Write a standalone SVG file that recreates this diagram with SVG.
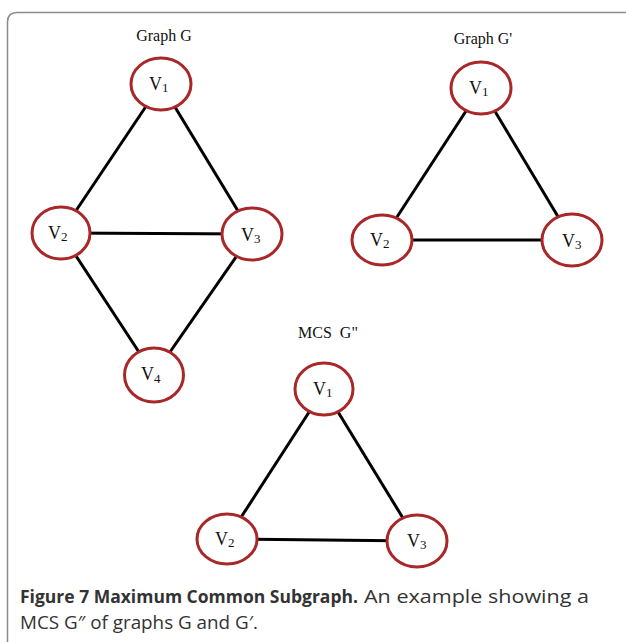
<svg xmlns="http://www.w3.org/2000/svg" width="626" height="642" viewBox="0 0 626 642">
<style>
.n ellipse{fill:#fff;stroke:#a8282a;stroke-width:3}
.e line{stroke:#000;stroke-width:3}
.lbl{font-family:"Liberation Serif",serif;font-size:18px;fill:#111}
.sub{font-size:13px}
.ttl{font-family:"Liberation Serif",serif;font-size:16px;fill:#111;text-anchor:middle}
.cap{font-family:"Open Sans","DejaVu Sans",sans-serif;font-size:18px;fill:#333}
</style>
<rect width="626" height="642" fill="#fff"/>
<path d="M7.5 660 V22 Q7.5 12.5 17 12.5 H640" fill="none" stroke="#8a8a8a" stroke-width="1.5"/>
<text class="ttl" x="164" y="41">Graph G</text>
<text class="ttl" x="483" y="44">Graph G'</text>
<text class="ttl" x="328" y="338" xml:space="preserve">MCS  G"</text>
<g id="connectors" class="e">
<line x1="161" y1="84" x2="61" y2="233"/>
<line x1="161" y1="84" x2="252" y2="234"/>
<line x1="61" y1="233" x2="252" y2="234"/>
<line x1="61" y1="233" x2="154" y2="375"/>
<line x1="252" y1="234" x2="154" y2="375"/>
<line x1="481" y1="88" x2="382" y2="240"/>
<line x1="481" y1="88" x2="572" y2="240"/>
<line x1="382" y1="240" x2="572" y2="240"/>
<line x1="324" y1="389" x2="227" y2="539"/>
<line x1="324" y1="389" x2="417" y2="541"/>
<line x1="227" y1="539" x2="417" y2="541"/>
</g>
<g id="G_v1" class="n"><ellipse cx="161" cy="84" rx="30" ry="26"/><text class="lbl" x="149" y="90">V<tspan class="sub" dy="2">1</tspan></text></g>
<g id="G_v2" class="n"><ellipse cx="61" cy="233" rx="29" ry="26"/><text class="lbl" x="48" y="239">V<tspan class="sub" dy="2">2</tspan></text></g>
<g id="G_v3" class="n"><ellipse cx="252" cy="234" rx="30" ry="26"/><text class="lbl" x="241" y="241">V<tspan class="sub" dy="2">3</tspan></text></g>
<g id="G_v4" class="n"><ellipse cx="154" cy="375" rx="29.5" ry="27"/><text class="lbl" x="141" y="380">V<tspan class="sub" dy="3">4</tspan></text></g>
<g id="Gp_v1" class="n"><ellipse cx="481" cy="88" rx="30" ry="26"/><text class="lbl" x="469" y="94">V<tspan class="sub" dy="2">1</tspan></text></g>
<g id="Gp_v2" class="n"><ellipse cx="382" cy="240" rx="30" ry="25"/><text class="lbl" x="370" y="246">V<tspan class="sub" dy="2">2</tspan></text></g>
<g id="Gp_v3" class="n"><ellipse cx="572" cy="240" rx="30" ry="26"/><text class="lbl" x="562" y="247">V<tspan class="sub" dy="2">3</tspan></text></g>
<g id="M_v1" class="n"><ellipse cx="324" cy="389" rx="29" ry="26"/><text class="lbl" x="313" y="395">V<tspan class="sub" dy="2">1</tspan></text></g>
<g id="M_v2" class="n"><ellipse cx="227" cy="539" rx="30" ry="25"/><text class="lbl" x="215" y="545">V<tspan class="sub" dy="2">2</tspan></text></g>
<g id="M_v3" class="n"><ellipse cx="417" cy="541" rx="30" ry="26"/><text class="lbl" x="407" y="547">V<tspan class="sub" dy="2">3</tspan></text></g>
<text class="cap" x="20" y="603" font-weight="bold" fill="#111" textLength="338" lengthAdjust="spacingAndGlyphs">Figure 7 Maximum Common Subgraph.</text>
<text class="cap" x="364" y="603" textLength="225" lengthAdjust="spacingAndGlyphs">An example showing a</text>
<text class="cap" x="20" y="629" textLength="238" lengthAdjust="spacingAndGlyphs">MCS G″ of graphs G and G′.</text>
</svg>
